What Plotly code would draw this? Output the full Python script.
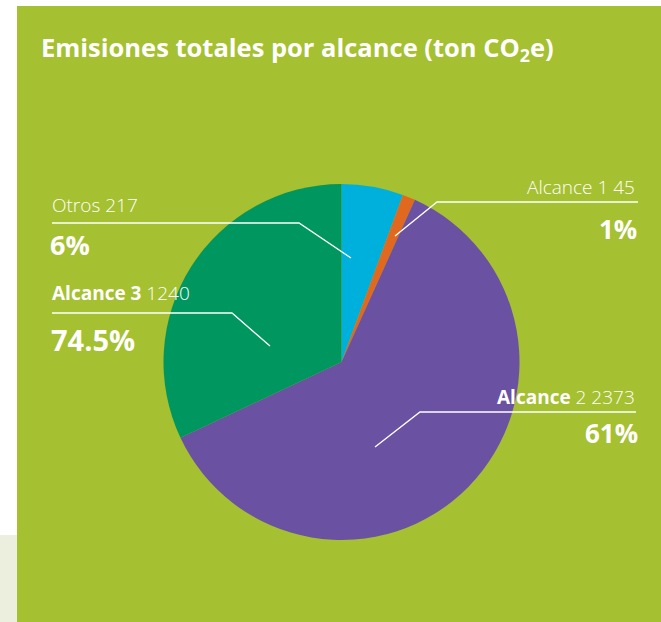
import plotly.graph_objects as go

W, H = 661, 622

categories = ["Otros", "Alcance 1", "Alcance 2", "Alcance 3"]
values = [217, 45, 2373, 1240]
colors = ["#00B0DC", "#E0691F", "#6A51A1", "#00965F"]
pct_labels = ["6%", "1%", "61%", "74.5%"]

BG = "#A5C030"
FONT = "Open Sans"

def px(x):
    return x / W

def py(y):
    return 1 - y / H

fig = go.Figure()
fig.add_trace(go.Pie(
    labels=categories, values=values, sort=False, direction="clockwise",
    rotation=0, marker=dict(colors=colors, line=dict(width=0)),
    textinfo="none", hoverinfo="none", showlegend=False,
    domain=dict(x=[px(163), px(520)], y=[py(540), py(184)]),
))

shapes = [
    dict(type="rect", xref="paper", yref="paper", x0=0, x1=px(17), y0=0, y1=py(535),
         fillcolor="#ECEFDD", line=dict(width=0), layer="below"),
    dict(type="rect", xref="paper", yref="paper", x0=px(17), x1=1, y0=0, y1=py(6),
         fillcolor=BG, line=dict(width=0), layer="below"),
]

def leader(points):
    path = "M " + " L ".join(f"{px(x)},{py(y)}" for x, y in points)
    return dict(type="path", xref="paper", yref="paper", path=path,
                line=dict(color="white", width=1.3), layer="above")

shapes += [
    leader([(52, 223), (299, 223), (351, 258)]),
    leader([(52, 313), (232, 313), (270, 346)]),
    leader([(638, 202), (437, 202), (395, 236)]),
    leader([(636, 412), (420, 412), (375, 447)]),
]

ann = []
def txt(x, y, s, size, anchor="left", weight=400):
    ann.append(dict(xref="paper", yref="paper", x=px(x), y=py(y), text=s, showarrow=False,
                    xanchor=anchor, yanchor="middle",
                    font=dict(family=FONT, size=size, color="white", weight=weight)))

txt(39, 48, "Emisiones totales por alcance (ton CO<sub>2</sub>e)", 25.5, weight=700)
txt(50, 205, f"{categories[0]} {values[0]}", 19, weight=300)
txt(48, 245, pct_labels[0], 27, weight=700)
txt(50, 293, f"<b>{categories[3]}</b> {values[3]}", 19, weight=300)
txt(49, 339, pct_labels[3], 29, weight=700)
txt(637, 187, f"{categories[1]} {values[1]}", 19, "right", weight=300)
txt(639, 229, pct_labels[1], 26, "right", weight=700)
txt(637, 397, f"<b>{categories[2].split()[0]}</b> {categories[2].split()[1]} {values[2]}", 19, "right", weight=300)
txt(640, 433, pct_labels[2], 26, "right", weight=700)

fig.update_layout(
    width=W, height=H, margin=dict(l=0, r=0, t=0, b=0),
    paper_bgcolor="white", plot_bgcolor="white",
    shapes=shapes, annotations=ann,
)
fig.write_html("out.html", config={"displayModeBar": False},
               post_script="document.body.style.margin='0';")
